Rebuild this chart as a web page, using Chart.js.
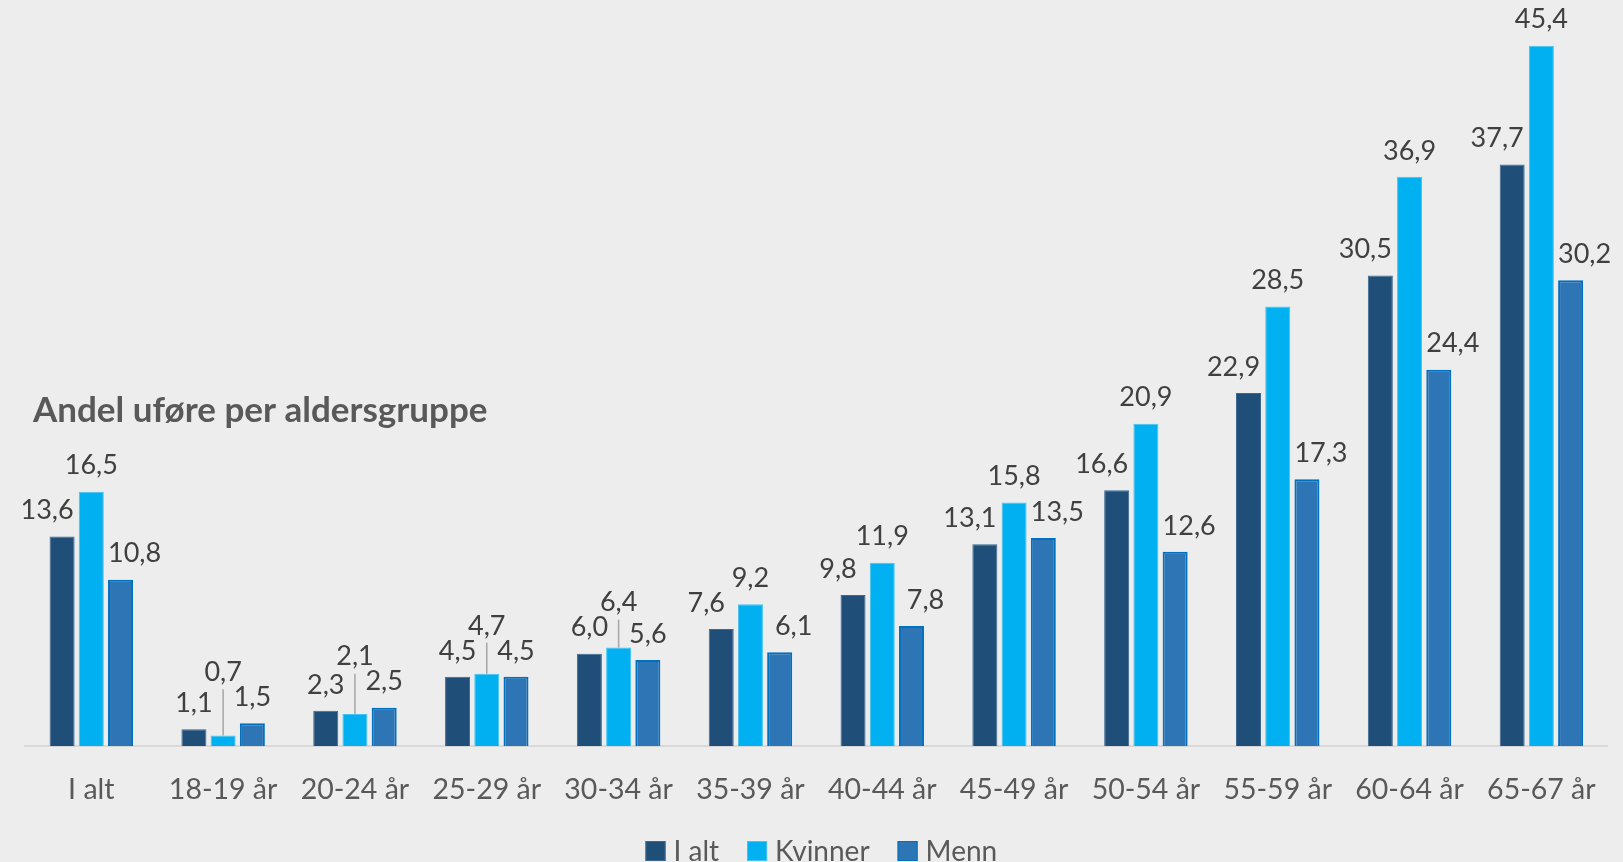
<!DOCTYPE html>
<html>
<head>
<meta charset="utf-8">
<script src="https://cdn.jsdelivr.net/npm/chart.js@4"></script>
<style>
html,body{margin:0;padding:0;background:#EDEDED;overflow:hidden;}
#wrap{width:1623px;height:862px;}
canvas{display:block;background:#EDEDED;}
</style>
</head>
<body>
<div id="wrap"><canvas id="c" width="1623" height="862"></canvas></div>
<script>
const categories = ['I alt','18-19 år','20-24 år','25-29 år','30-34 år','35-39 år','40-44 år','45-49 år','50-54 år','55-59 år','60-64 år','65-67 år'];
const iAlt    = [13.6, 1.1, 2.3, 4.5, 6.0, 7.6, 9.8, 13.1, 16.6, 22.9, 30.5, 37.7];
const kvinner = [16.5, 0.7, 2.1, 4.7, 6.4, 9.2, 11.9, 15.8, 20.9, 28.5, 36.9, 45.4];
const menn    = [10.8, 1.5, 2.5, 4.5, 5.6, 6.1, 7.8, 13.5, 12.6, 17.3, 24.4, 30.2];
const seriesNames = ['I alt','Kvinner','Menn'];
const chartTitle = 'Andel uføre per aldersgruppe';

const FONT = 'Lato, "Open Sans", sans-serif';
const fmt = v => v.toFixed(1).replace('.', ',');

const titlePlugin = {
  id: 'sideTitle',
  afterDraw(chart) {
    const ctx = chart.ctx;
    ctx.save();
    ctx.font = 'bold 35px ' + FONT;
    ctx.fillStyle = '#595959';
    ctx.textAlign = 'left';
    ctx.textBaseline = 'alphabetic';
    ctx.fillText(chartTitle, 33, 422);
    ctx.restore();
  }
};

const labelPlugin = {
  id: 'barLabels',
  afterDatasetsDraw(chart) {
    const ctx = chart.ctx;
    const metas = [0,1,2].map(i => chart.getDatasetMeta(i));
    const ds = chart.data.datasets;
    ctx.save();
    ctx.font = '27px ' + FONT;
    ctx.fillStyle = '#404040';
    ctx.textAlign = 'center';
    ctx.textBaseline = 'middle';
    const gap = 27, shiftL = 15, shiftR = 14, raise = 25;
    for (let i = 0; i < categories.length; i++) {
      const bars = metas.map(m => m.data[i]);
      const pos = bars.map(b => ({x: b.x, y: b.y - gap}));
      const nb = Math.min(pos[0].y, pos[2].y);
      let leader = null;
      if (pos[1].y > nb - 22) {
        pos[1].y = nb - raise;
        leader = {x: bars[1].x, y1: pos[1].y + 18, y2: bars[1].y};
      } else {
        pos[0].x -= shiftL;
        pos[2].x += shiftR;
      }
      if (leader) {
        ctx.save();
        ctx.strokeStyle = '#A6A6A6';
        ctx.lineWidth = 1.5;
        ctx.beginPath();
        ctx.moveTo(leader.x, leader.y1);
        ctx.lineTo(leader.x, leader.y2);
        ctx.stroke();
        ctx.restore();
      }
      for (let d = 0; d < 3; d++) {
        ctx.fillText(fmt(ds[d].data[i]), pos[d].x, pos[d].y + 1);
      }
    }
    ctx.restore();
  }
};

const legendPlugin = {
  id: 'customLegend',
  afterDraw(chart) {
    const ctx = chart.ctx;
    const ds = chart.data.datasets;
    ctx.save();
    ctx.font = '28px ' + FONT;
    ctx.textBaseline = 'alphabetic';
    ctx.textAlign = 'left';
    const box = 20, tgap = 8, igap = 28;
    const widths = ds.map(d => box + tgap + ctx.measureText(d.label).width);
    const total = widths.reduce((a,b) => a+b, 0) + igap * (ds.length - 1);
    const ca = chart.chartArea;
    let x = (ca.left + ca.right) / 2 + 5 - total / 2;
    const top = 841;
    ds.forEach((d, i) => {
      ctx.fillStyle = d.backgroundColor;
      ctx.fillRect(x, top, box, box);
      ctx.strokeStyle = d.borderColor;
      ctx.lineWidth = 1;
      ctx.strokeRect(x + 0.5, top + 0.5, box - 1, box - 1);
      ctx.fillStyle = '#595959';
      ctx.fillText(d.label, x + box + tgap, top + 20);
      x += widths[i] + igap;
    });
    ctx.restore();
  }
};

new Chart(document.getElementById('c'), {
  type: 'bar',
  data: {
    labels: categories,
    datasets: [
      {label: seriesNames[0], data: iAlt, backgroundColor: '#1F4E79', borderColor: '#3A6890', borderWidth: 1,
       categoryPercentage: 0.665, barPercentage: 0.856},
      {label: seriesNames[1], data: kvinner, backgroundColor: '#00B0F0', borderColor: '#45C3F2', borderWidth: 1,
       categoryPercentage: 0.665, barPercentage: 0.856},
      {label: seriesNames[2], data: menn, backgroundColor: '#2E75B6', borderColor: '#0070C0', borderWidth: 2,
       categoryPercentage: 0.665, barPercentage: 0.856}
    ]
  },
  options: {
    responsive: false,
    devicePixelRatio: 1,
    animation: false,
    layout: {padding: {left: 25.4, right: 15.6, top: 0, bottom: 28.1}},
    plugins: {legend: {display: false}, title: {display: false}, tooltip: {enabled: false}},
    scales: {
      x: {
        grid: {display: true, color: 'rgba(0,0,0,0)', drawTicks: false},
        border: {display: true, color: '#D9D9D9', width: 2},
        ticks: {font: {family: FONT, size: 28.5}, color: '#595959', padding: 26.7, maxRotation: 0, autoSkip: false}
      },
      y: {display: false, min: 0, max: 48.36}
    }
  },
  plugins: [titlePlugin, labelPlugin, legendPlugin]
});
</script>
</body>
</html>
